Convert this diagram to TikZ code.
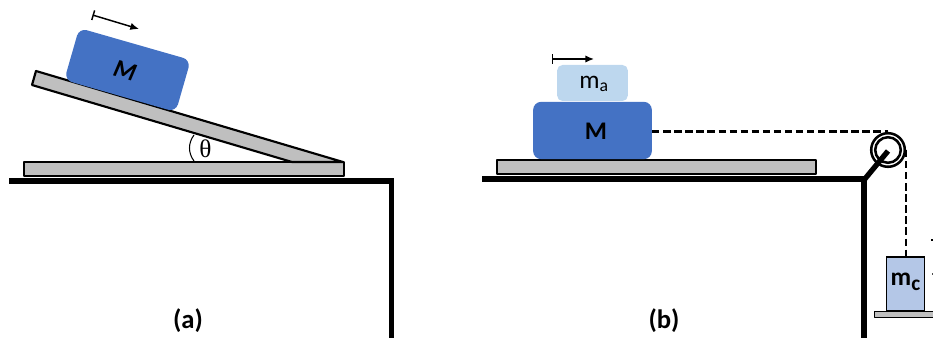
\documentclass[tikz,border=0pt]{standalone}
\usepackage{fontspec}
\setmainfont{Carlito}
\newfontfamily\thetafont{Liberation Serif}
\usetikzlibrary{arrows.meta}
\definecolor{blk}{HTML}{4472C4}
\definecolor{lite}{HTML}{BDD7EE}
\definecolor{hang}{HTML}{B4C7E7}
\definecolor{plate}{HTML}{BFBFBF}
\tikzset{
  px/.style={x=0.75pt,y=-0.75pt},
  plateshape/.style={draw=black,fill=plate,line width=1.6pt,line join=round},
  wall/.style={draw=black,line width=4pt},
  rope/.style={draw=black,line width=2pt,dash pattern=on 5.5pt off 2.8pt},
  massbox/.style={inner sep=0pt,minimum width=87pt,minimum height=40.5pt,rounded corners=6pt,fill=blk},
  vec/.style={draw=black,line width=1.1pt,{Bar[width=7.5pt]}-{Latex[length=6.5pt,width=5.5pt]}},
  captiontext/.style={font=\bfseries\fontsize{20}{22}\selectfont}
}
\begin{document}
\begin{tikzpicture}[px]
\useasboundingbox (0,0) rectangle (933,338);
% panel a
\draw[wall] (9,181) -- (394,181);
\draw[wall] (391.5,179) -- (391.5,338);
\node[plateshape,inner sep=0pt,minimum width=239.5pt,minimum height=10.5pt] (basea) at (184,169) {};
\draw[plateshape] (36,71) -- (343,162) -- (292,162) -- (32,85) -- cycle;
\node[massbox,rotate=-16] (ma) at (127.5,70) {};
\node[rotate=-16,font=\bfseries\itshape\fontsize{19}{22}\selectfont] (mal) at (125,71) {M};
\coordinate (va1) at (92.5,15);
\coordinate (va2) at (139,29);
\draw[vec] (va1) -- (va2);
\draw[draw=black,line width=0.8pt] (194,135) .. controls (188,143) and (188,153) .. (194,161);
\node[font=\thetafont\fontsize{19}{21}\selectfont] (th) at (205.5,148.5) {θ};
\node[captiontext] (capa) at (188,321) {(a)};
% panel b
\draw[wall] (482,179) -- (866,179);
\draw[wall] (864,177) -- (864,338);
\node[plateshape,inner sep=0pt,minimum width=239pt,minimum height=10.5pt] (baseb) at (656.5,167) {};
\node[massbox,minimum width=89pt,minimum height=43pt] (mb) at (592.5,130.5) {};
\node[inner sep=0pt,minimum width=53pt,minimum height=27pt,rounded corners=4pt,fill=lite] (mt) at (592.5,83) {};
\node[font=\fontsize{19}{22}\selectfont] (mtl) at (594,84) {m\textsubscript{a}};
\node[font=\bfseries\fontsize{19}{22}\selectfont] (mbl) at (596,131.5) {M};
\coordinate (vb1) at (552,59);
\coordinate (vb2) at (594,59);
\draw[vec] (vb1) -- (vb2);
\coordinate (ra) at (888,131.5);
\coordinate (rb) at (906,150);
\draw[rope] (mb.east |- ra) -- (ra);
\node[circle,draw=black,fill=white,line width=1.9pt,minimum size=25.2pt,inner sep=0pt] (pul) at (888,150) {};
\node[circle,draw=black,line width=1.9pt,minimum size=19.2pt,inner sep=0pt] (puli) at (888,150) {};
\draw[wall] (864,180) -- (888,151);
\node[plateshape,line width=0.7pt,inner sep=0pt,minimum width=46pt,minimum height=4.5pt] (hp) at (905,314) {};
\node[draw=black,fill=hang,line width=1.3pt,inner sep=0pt,minimum width=28.5pt,minimum height=40pt] (mc) at (905.5,284) {};
\node[font=\bfseries\fontsize{19}{22}\selectfont] (mcl) at (905.5,282) {m\raisebox{-3.5pt}{\fontsize{16}{18}\selectfont c}};
\draw[rope] (rb) -- (mc.north -| rb);
\node[captiontext] (capb) at (664,321) {(b)};
\fill[black] (931,239.5) rectangle (933,241);
\fill[black!70] (931.5,273.5) rectangle (933,275.5);
\end{tikzpicture}
\end{document}
